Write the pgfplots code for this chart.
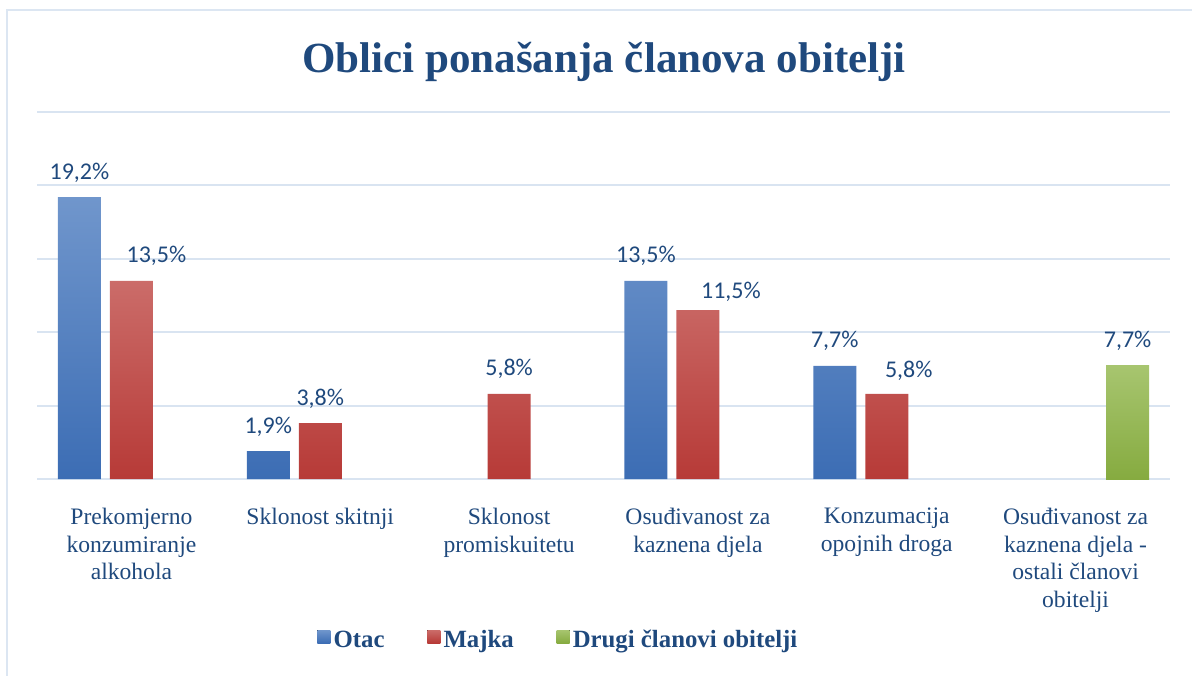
\documentclass[border=0pt]{standalone}
\usepackage{pgfplots}
\pgfplotsset{compat=1.18}
\usepackage{pgfplotstable}
\usepackage{fontspec}
\setmainfont{Liberation Serif}
\newfontfamily\calibri{Carlito}
\definecolor{txtblue}{HTML}{1F497D}
\definecolor{gridblue}{HTML}{D9E4F1}
\definecolor{borderblue}{HTML}{DCE6F2}
\definecolor{bluetop}{HTML}{7096CC}
\definecolor{bluebot}{HTML}{3C6DB4}
\definecolor{redtop}{HTML}{CB6C69}
\definecolor{redbot}{HTML}{B73A37}
\definecolor{greentop}{HTML}{A7C56F}
\definecolor{greenbot}{HTML}{86AB40}
\newcommand{\lstrut}{\rule[-3.5pt]{0pt}{16.2pt}}

\pgfplotstableread{
x y
0 19.2
1 1.9
3 13.5
4 7.7
}\otac
\pgfplotstableread{
x y dx dy
0 13.5 12.5 0
1 3.8 0 0
2 5.8 0 0
3 11.5 16.5 -3
4 5.8 11 -1
}\majka
\pgfplotstableread{
x y
5 7.7
}\drugi

\begin{document}
\begin{tikzpicture}
\path[use as bounding box] (0,0) rectangle (596pt,-337.5pt);
\draw[borderblue, line width=1pt] (3.5pt,-340pt) -- (3.5pt,-5.1pt) -- (600pt,-5.1pt);
\node[anchor=base, text=txtblue, font=\bfseries\fontsize{21.5}{24}\selectfont] at (302pt,-36pt) {Oblici ponašanja članova obitelji};
\begin{axis}[
  anchor=south west, at={(18.5pt,-239.5pt)},
  scale only axis, width=566.5pt, height=183.5pt,
  xmin=-0.5, xmax=5.5, ymin=0, ymax=25,
  ybar=4.5pt, bar width=21.5pt,
  axis line style={draw=none}, tick style={draw=none},
  ytick={0,5,10,15,20,25}, yticklabels={},
  ymajorgrids, major grid style={color=gridblue, line width=1pt},
  xtick={0,1,2,3,4,5},
  xticklabels={
    {Prekomjerno\\konzumiranje\\alkohola},
    {Sklonost skitnji},
    {Sklonost\\promiskuitetu},
    {Osuđivanost za\\kaznena djela},
    {Konzumacija\\opojnih droga},
    {Osuđivanost za\\kaznena djela -\\ostali članovi\\obitelji}},
  xticklabel style={align=center, anchor=north, inner sep=0pt, yshift=-10.2pt,
    font=\fontsize{11.8}{13.8}\selectfont, text=txtblue},
  /pgf/number format/.cd, fixed, fixed zerofill, precision=1, use comma, assume math mode=true,
  /pgfplots/.cd,
  nodes near coords={\pgfmathprintnumber{\pgfplotspointmeta}\%},
  every node near coord/.append style={anchor=base, yshift=9pt, inner sep=0pt,
    font=\calibri\fontsize{12}{14}\selectfont, text=txtblue},
  legend style={at={(axis description cs:0.2471,-0.4292)}, anchor=west, draw=none, fill=none,
    legend columns=-1, inner sep=0pt, nodes={inner ysep=0pt, inner xsep=1.6pt},
    font=\bfseries\fontsize{12.4}{14}\selectfont, text=txtblue,
    /tikz/every even column/.append style={column sep=19.8pt}},
  every axis plot post/.append style={legend image code/.code={\fill[##1] (0pt,-3.25pt) rectangle (6.5pt,3.25pt);}},
]
\addplot[draw=none, top color=bluetop, bottom color=bluebot] table[x=x,y=y] {\otac};
\addlegendentry{\lstrut Otac}
\addplot[draw=none, top color=redtop, bottom color=redbot,
  visualization depends on={\thisrow{dx}\as\dx},
  visualization depends on={\thisrow{dy}\as\dy},
  every node near coord/.append style={xshift=\dx pt, yshift=\dy pt}] table[x=x,y=y] {\majka};
\addlegendentry{\lstrut Majka}
\addplot[draw=none, top color=greentop, bottom color=greenbot] table[x=x,y=y] {\drugi};
\addlegendentry{\lstrut Drugi članovi obitelji}
\end{axis}
\end{tikzpicture}
\end{document}
